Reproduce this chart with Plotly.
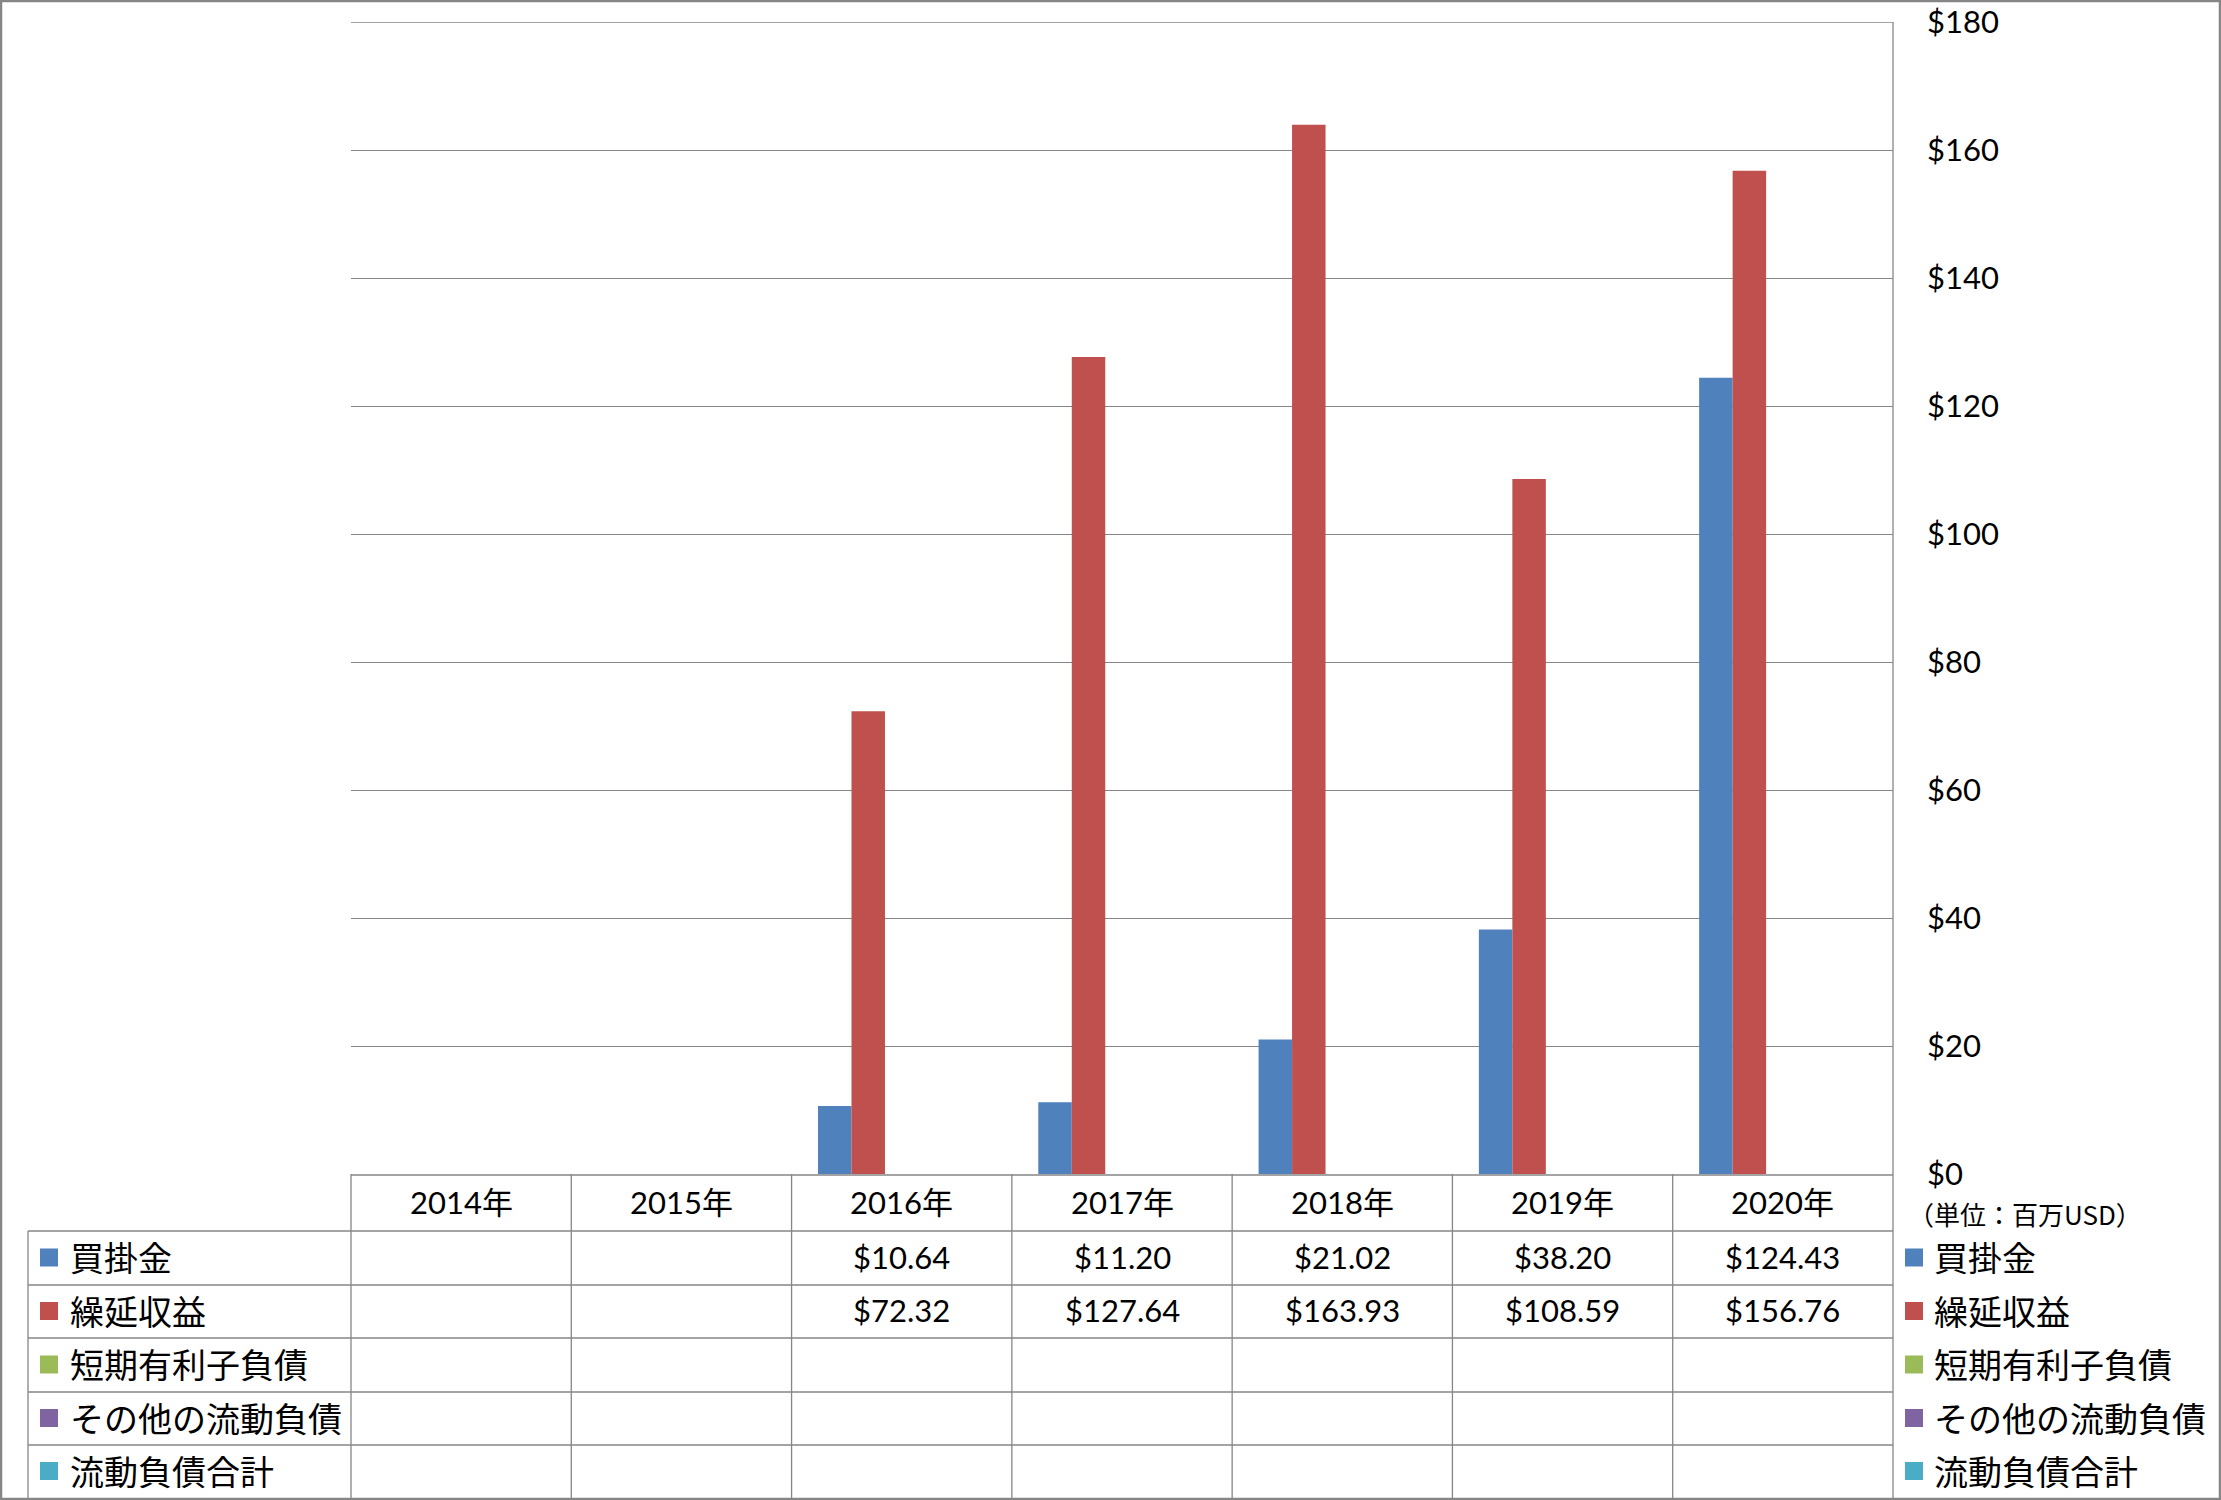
import plotly.graph_objects as go

W, H = 2221, 1500

years = ["2014年", "2015年", "2016年", "2017年", "2018年", "2019年", "2020年"]
series_names = ["買掛金", "繰延収益", "短期有利子負債", "その他の流動負債", "流動負債合計"]
kaikake = [None, None, 10.64, 11.20, 21.02, 38.20, 124.43]
kuenobe = [None, None, 72.32, 127.64, 163.93, 108.59, 156.76]
tanki = [None] * 7
sonota = [None] * 7
goukei = [None] * 7
colors = ["#4F81BD", "#C0504D", "#9BBB59", "#8064A2", "#4BACC6"]
y_ticks = [0, 20, 40, 60, 80, 100, 120, 140, 160, 180]
unit_label = "（単位：百万USD）"

series_values = [kaikake, kuenobe, tanki, sonota, goukei]


def px(x):
    return x / W


def py(y):
    return 1 - y / H


PLOT_L, PLOT_R, PLOT_T, PLOT_B = 351, 1893, 22, 1174
LEG_L = 28
ROW_LINES = [1231, 1285, 1338, 1392, 1445, 1498]
HEADER_C = 1202
GRID = "#868686"
NUM_FONT = "Lato, 'Noto Sans CJK JP'"
CJK_FONT = "'Noto Sans CJK JP', Lato"
NUM_SIZE = 31
CJK_SIZE = 34

fig = go.Figure()
for name, vals, col in zip(series_names, series_values, colors):
    fig.add_trace(go.Bar(x=years, y=vals, name=name, marker=dict(color=col, line=dict(width=0)),
                         showlegend=False))

shapes = []
annotations = []

# outer frame
shapes.append(dict(type="rect", xref="paper", yref="paper", x0=px(1), x1=px(2220), y0=py(1), y1=py(1499),
                   line=dict(color=GRID, width=2.5), layer="above"))
# top gridline at the axis maximum
shapes.append(dict(type="line", xref="paper", yref="y", x0=px(PLOT_L), x1=px(PLOT_R), y0=y_ticks[-1], y1=y_ticks[-1],
                   line=dict(color=GRID, width=1.3), layer="below"))
# right axis line spanning plot + table
shapes.append(dict(type="line", xref="paper", yref="paper", x0=px(PLOT_R), x1=px(PLOT_R), y0=py(PLOT_T), y1=py(1498),
                   line=dict(color=GRID, width=1.3)))
# top table line (x axis)
shapes.append(dict(type="line", xref="paper", yref="paper", x0=px(PLOT_L), x1=px(PLOT_R), y0=py(PLOT_B + 1), y1=py(PLOT_B + 1),
                   line=dict(color=GRID, width=1.3)))
# row lines
for yl in ROW_LINES[:-1]:
    shapes.append(dict(type="line", xref="paper", yref="paper", x0=px(LEG_L), x1=px(PLOT_R), y0=py(yl), y1=py(yl),
                       line=dict(color=GRID, width=1.3)))
# left legend column border
shapes.append(dict(type="line", xref="paper", yref="paper", x0=px(LEG_L), x1=px(LEG_L), y0=py(ROW_LINES[0]), y1=py(1498),
                   line=dict(color=GRID, width=1.3)))
# column separators
colw = (PLOT_R - PLOT_L) / len(years)
for k in range(len(years)):
    xx = PLOT_L + k * colw
    shapes.append(dict(type="line", xref="paper", yref="paper", x0=px(xx), x1=px(xx), y0=py(PLOT_B), y1=py(1498),
                       line=dict(color=GRID, width=1.3)))

# header labels
for yr in years:
    annotations.append(dict(x=yr, xref="x", y=py(HEADER_C), yref="paper", text=yr, showarrow=False,
                            xanchor="center", yanchor="middle", font=dict(family=NUM_FONT, size=NUM_SIZE, color="black")))

row_centers = [(ROW_LINES[i] + ROW_LINES[i + 1]) / 2 - 1.5 for i in range(len(series_names))]
for i, (name, vals, col) in enumerate(zip(series_names, series_values, colors)):
    yc = row_centers[i]
    for lx, tx in ((40, 68), (1905, 1932)):
        shapes.append(dict(type="rect", xref="paper", yref="paper", x0=px(lx), x1=px(lx + 18),
                           y0=py(yc - 8), y1=py(yc + 10), fillcolor=col, line=dict(width=0)))
        annotations.append(dict(x=px(tx), xref="paper", y=py(yc), yref="paper", text=name, showarrow=False,
                                xanchor="left", yanchor="middle", font=dict(family=CJK_FONT, size=CJK_SIZE, color="black")))
    for yr, v in zip(years, vals):
        if v is not None:
            annotations.append(dict(x=yr, xref="x", y=py(yc), yref="paper", text=f"${v:.2f}", showarrow=False,
                                    xanchor="center", yanchor="middle",
                                    font=dict(family=NUM_FONT, size=NUM_SIZE, color="black")))

annotations.append(dict(x=px(1906), xref="paper", y=py(1213), yref="paper", text=unit_label, showarrow=False,
                        xanchor="left", yanchor="middle", font=dict(family=CJK_FONT, size=26, color="black")))

fig.update_layout(
    width=W, height=H,
    margin=dict(l=0, r=0, t=0, b=0, autoexpand=False),
    paper_bgcolor="white", plot_bgcolor="white",
    barmode="group", bargap=0.24, bargroupgap=0,
    xaxis=dict(domain=[px(PLOT_L), px(PLOT_R)], showticklabels=False, showgrid=False, zeroline=False,
               showline=False, ticks="", fixedrange=True, automargin=False),
    yaxis=dict(domain=[py(PLOT_B), py(PLOT_T)], range=[0, 180], side="right", tickvals=y_ticks,
               ticktext=[f"${v}" for v in y_ticks], showgrid=True, gridcolor=GRID, gridwidth=1.3,
               zeroline=False, showline=False, ticks="", ticklabelstandoff=33, automargin=False,
               tickfont=dict(family=NUM_FONT, size=NUM_SIZE, color="black")),
    shapes=shapes, annotations=annotations,
)

fig.write_html("out.html")
